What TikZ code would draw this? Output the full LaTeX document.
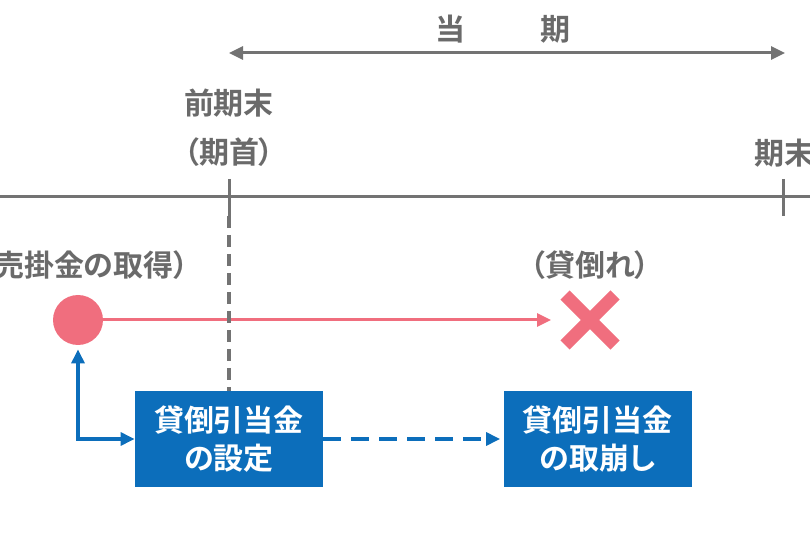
\documentclass[tikz,border=0pt]{standalone}
\usepackage{fontspec}
\usepackage{tikz}
\usetikzlibrary{arrows.meta, calc, shapes.misc, positioning}

\newfontfamily\jpfont{Noto Sans CJK JP}[BoldFont={Noto Sans CJK JP Bold}, RawFeature={+palt}]

\definecolor{linegray}{HTML}{737373}
\definecolor{textgray}{HTML}{6A6A6A}
\definecolor{lossred}{HTML}{F06E7E}
\definecolor{boxblue}{HTML}{0C6EBB}

\tikzset{tri/.tip={Triangle[length=7pt, width=6.5pt]}}

\begin{document}
\begin{tikzpicture}[x=0.5pt, y=-0.5pt,
		lbl/.style={text=textgray, inner sep=0pt, font=\jpfont\bfseries\fontsize{15pt}{18pt}\selectfont},
		acct/.style={rectangle, fill=boxblue, text=white, align=center, inner sep=0pt,
			minimum width=94pt, minimum height=48pt, font=\jpfont\bfseries\fontsize{15pt}{19.5pt}\selectfont}]
		\useasboundingbox (0,0) rectangle (810,540);
		
		% Definitions
		\coordinate (T0) at (0,197);
		\coordinate (T1) at (229,197);
		\coordinate (T2) at (783,197);
		\coordinate (T3) at (810,197);
		\coordinate (P0) at (229,53);
		\coordinate (P1) at (785,53);
		
		% Period
		\node[lbl] (touki) at (503,29) {当\hspace{2.5em}期};
		\draw[linegray, line width=1.5pt, tri-tri] (P0) -- (P1);
		
		% Time line
		\draw[linegray, line width=1.5pt] (T0) -- (T3);
		\draw[linegray, line width=1.5pt] ($(T1)+(0,-18)$) -- ($(T1)+(0,19)$);
		\draw[linegray, line width=1.5pt] ($(T2)+(0,-18)$) -- ($(T2)+(0,19)$);
		\node[lbl] (zenki) at (229,103) {前期末};
		\node[lbl] (kishu) at (229,152) {（期首）};
		\node[lbl] (kimatsu) at (784,153) {期末};
		
		% Receivable and bad debt
		\node[lbl, anchor=east] (shutoku) at (189,265) {（売掛金の取得）};
		\node[lbl] (kashidaore) at (590,265) {（貸倒れ）};
		\node[circle, fill=lossred, minimum size=25pt, inner sep=0pt] (urikake) at (78,320) {};
		\node[cross out, draw=lossred, line width=6.5pt, minimum size=18.5pt, inner sep=0pt] (batsu) at (590,320) {};
		\draw[lossred, line width=1.5pt, -tri, shorten >=7pt] (urikake) -- (batsu);
		
		% Allowance
		\node[acct] (settei) at (229,439) {\raisebox{-1.5pt}{\shortstack{貸倒引当金\\[1.5pt]の設定}}};
		\node[acct] (torikuzushi) at (597.5,439) {\raisebox{-1.5pt}{\shortstack{貸倒引当金\\[1.5pt]の取崩し}}};
		\draw[linegray, line width=1.6pt, dash pattern=on 6pt off 3.5pt] ($(T1)+(0,19)$) -- (settei.north);
		\draw[boxblue, line width=1.6pt, tri-tri] ([yshift=-2pt]urikake.south) |- (settei.west);
		\draw[boxblue, line width=1.6pt, -tri, dash pattern=on 9pt off 5pt, shorten >=1.5pt] (settei) -- (torikuzushi);
	\end{tikzpicture}
\end{document}
